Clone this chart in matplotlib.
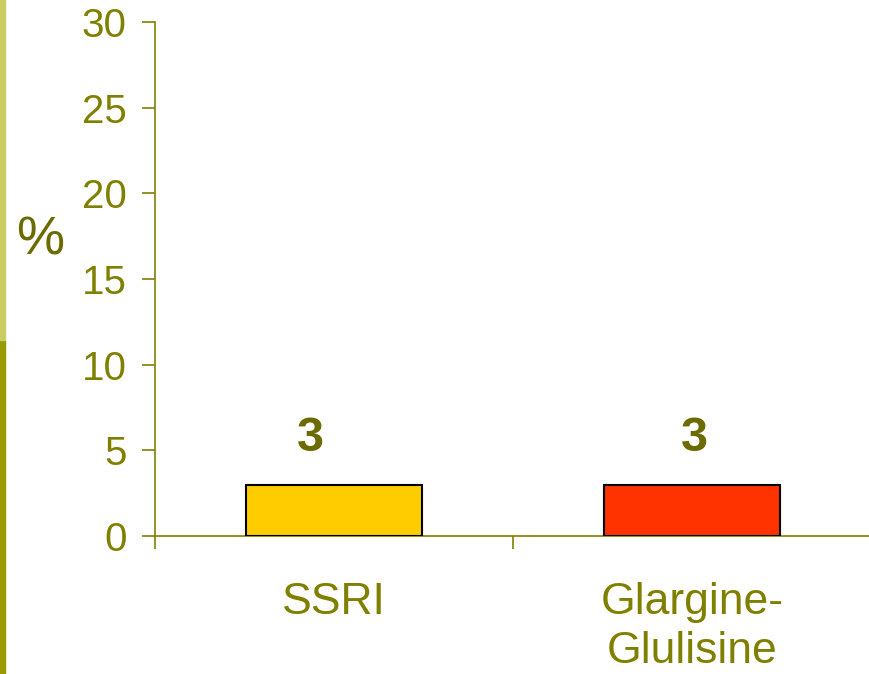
import matplotlib
matplotlib.use("Agg")
import matplotlib.pyplot as plt
from matplotlib.patches import Rectangle

categories = ["SSRI", "Glargine-\nGlulisine"]
values = [3, 3]
bar_colors = ["#FFCC00", "#FF3300"]
y_ticks = [0, 5, 10, 15, 20, 25, 30]

olive = "#808000"
dark_olive = "#6B6B00"

plt.rcParams["font.family"] = ["Liberation Sans", "DejaVu Sans"]

fig = plt.figure(figsize=(8.69, 6.74), dpi=100)

# decorative stripe down the left edge
fig.patches.append(Rectangle((0, 0), 5 / 869, 334 / 674, transform=fig.transFigure,
                             color="#999900", zorder=0))
fig.patches.append(Rectangle((0, 334 / 674), 5 / 869, 340 / 674, transform=fig.transFigure,
                             color="#CCCC66", zorder=0))

ax = fig.add_axes([155 / 869, (674 - 536) / 674, 714 / 869, 514 / 674])
x = list(range(len(categories)))
bars = ax.bar(x, values, width=0.49, color=bar_colors, edgecolor="black", linewidth=1.5, zorder=3)

# value labels above the bars (horizontal nudge in points)
label_dx = [-17, 2]
for xi, v, dx in zip(x, values, label_dx):
    ax.annotate(f"{v}", xy=(xi, v), xytext=(dx, 33), textcoords="offset points",
                ha="center", va="center", fontsize=35, fontweight="bold", color=dark_olive)

ax.set_xlim(-0.5, 1.494)
ax.set_ylim(0, 30)
ax.set_yticks(y_ticks)
ax.set_yticklabels([str(t) for t in y_ticks])
ax.set_xticks([-0.5, 0.5])
ax.set_xticklabels([])
ax.set_xticks(x, minor=True)
ax.set_xticklabels(categories, minor=True)

for s in ["top", "right"]:
    ax.spines[s].set_visible(False)
for s in ["left", "bottom"]:
    ax.spines[s].set_color(olive)
    ax.spines[s].set_linewidth(1.2)

ax.tick_params(axis="y", direction="out", length=9.5, width=1.2, color=olive,
               labelsize=29, labelcolor=olive, pad=11)
ax.tick_params(axis="x", which="major", direction="out", length=9.5, width=1.2, color=olive)
ax.tick_params(axis="x", which="minor", length=0, labelsize=32, labelcolor=olive, pad=33)
for lbl in ax.get_xticklabels(minor=True):
    lbl.set_verticalalignment("top")
    lbl.set_linespacing(1.25)

fig.text(40 / 869, 1 - 240 / 674, "%", ha="center", va="center", fontsize=39, color=dark_olive)

fig.savefig("out.png", dpi=100)
